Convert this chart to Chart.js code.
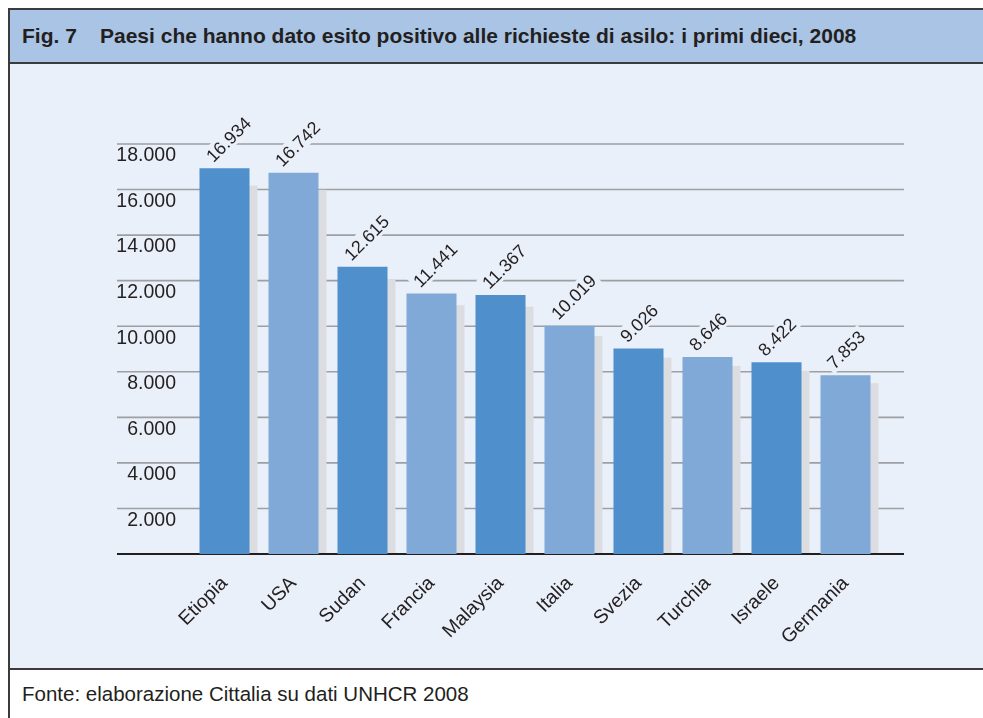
<!DOCTYPE html>
<html>
<head>
<meta charset="utf-8">
<script src="https://cdn.jsdelivr.net/npm/chart.js@4/dist/chart.umd.min.js"></script>
<style>
  body { margin: 0; width: 983px; height: 718px; overflow: hidden; background: #fff;
         font-family: "Liberation Sans", Arial, sans-serif; color: #231f20; position: relative; }
  .line { position: absolute; background: #3b3b3d; }
  #header { position: absolute; left: 10px; top: 10px; width: 973px; height: 53px; background: #a9c4e5; }
  #header span { position: absolute; top: 14px; font-weight: bold; font-size: 21px; white-space: nowrap; }
  #chartBox { position: absolute; left: 10px; top: 64px; width: 973px; height: 604px; background: #eaf0f9; }
  #footer { position: absolute; left: 22px; top: 682px; font-size: 20.5px; white-space: nowrap; }
</style>
</head>
<body>
<div class="line" style="left:8px;top:8px;width:975px;height:2px"></div>
<div class="line" style="left:8px;top:8px;width:2px;height:710px"></div>
<div id="header">
  <span style="left:12px">Fig. 7</span>
  <span style="left:90px">Paesi che hanno dato esito positivo alle richieste di asilo: i primi dieci, 2008</span>
</div>
<div class="line" style="left:10px;top:62px;width:973px;height:2px"></div>
<div id="chartBox"><canvas id="asiloChart"></canvas></div>
<div class="line" style="left:10px;top:668px;width:973px;height:2px"></div>
<div id="footer">Fonte: elaborazione Cittalia su dati UNHCR 2008</div>

<script>
// Data
const countries = ['Etiopia', 'USA', 'Sudan', 'Francia', 'Malaysia', 'Italia', 'Svezia', 'Turchia', 'Israele', 'Germania'];
const accepted = [16934, 16742, 12615, 11441, 11367, 10019, 9026, 8646, 8422, 7853];
const yMax = 18000;
const yStep = 2000;

const darkBlue = '#4f8fcc';
const lightBlue = '#80a9d7';
const bgColor = '#eaf0f9';
const textColor = '#231f20';

// 18000 -> "18.000"
function formatIt(v) {
    return String(v).replace(/\B(?=(\d{3})+(?!\d))/g, '.');
}

// Gridlines (wider than the bars area), axis line and grey bar shadows
const backdropPlugin = {
    id: 'backdrop',
    beforeDatasetsDraw(chart) {
        const ctx = chart.ctx;
        const y = chart.scales.y;
        const left = 107, right = 894;
        ctx.save();
        ctx.strokeStyle = '#9d9fa3';
        ctx.lineWidth = 1.6;
        y.ticks.forEach(t => {
            if (t.value === 0) return;
            const py = y.getPixelForValue(t.value);
            ctx.beginPath();
            ctx.moveTo(left, py);
            ctx.lineTo(right, py);
            ctx.stroke();
        });
        const base = y.getPixelForValue(0);
        ctx.fillStyle = '#dcdde0';
        chart.getDatasetMeta(0).data.forEach(bar => {
            const top = base - (base - bar.y) * 0.955;
            ctx.fillRect(bar.x - bar.width / 2 + 8, top, bar.width, base - top);
        });
        ctx.strokeStyle = textColor;
        ctx.lineWidth = 2;
        ctx.beginPath();
        ctx.moveTo(left, base);
        ctx.lineTo(right, base);
        ctx.stroke();
        ctx.restore();
    },
    afterDatasetsDraw(chart) {
        const ctx = chart.ctx;
        ctx.save();
        ctx.font = '18px "Liberation Sans", Arial, sans-serif';
        ctx.textBaseline = 'alphabetic';
        chart.getDatasetMeta(0).data.forEach((bar, i) => {
            const label = formatIt(accepted[i]);
            const w = ctx.measureText(label).width;
            ctx.save();
            ctx.translate(bar.x - 11, bar.y - 5);
            ctx.rotate(-Math.PI / 4);
            ctx.fillStyle = bgColor;
            ctx.fillRect(-3, -16, w + 6, 19);
            ctx.fillStyle = textColor;
            ctx.fillText(label, 0, 0);
            ctx.restore();
        });
        ctx.restore();
    }
};

const ctx = document.getElementById('asiloChart').getContext('2d');
new Chart(ctx, {
    type: 'bar',
    data: {
        labels: countries,
        datasets: [{
            data: accepted,
            backgroundColor: countries.map((c, i) => i % 2 === 0 ? darkBlue : lightBlue),
            borderWidth: 0,
            categoryPercentage: 1,
            barPercentage: 0.725
        }]
    },
    options: {
        responsive: true,
        maintainAspectRatio: false,
        animation: false,
        layout: { padding: { left: 0, right: 103, top: 80, bottom: 0 } },
        plugins: {
            legend: { display: false },
            tooltip: { enabled: false }
        },
        scales: {
            x: {
                grid: { display: false, drawTicks: false },
                border: { display: false },
                ticks: {
                    autoSkip: false,
                    minRotation: 45,
                    maxRotation: 45,
                    padding: 18,
                    color: textColor,
                    font: { family: '"Liberation Sans", Arial, sans-serif', size: 19.5 }
                },
                afterFit(scale) { scale.height = 114; }
            },
            y: {
                min: 0,
                max: yMax,
                grid: { display: false, drawTicks: false },
                border: { display: false },
                ticks: {
                    stepSize: yStep,
                    padding: 14,
                    labelOffset: 12,
                    color: textColor,
                    font: { family: '"Liberation Sans", Arial, sans-serif', size: 19.5 },
                    callback: v => v === 0 ? '' : formatIt(v)
                },
                afterFit(scale) { scale.width = 180; }
            }
        }
    },
    plugins: [backdropPlugin]
});
</script>
</body>
</html>
